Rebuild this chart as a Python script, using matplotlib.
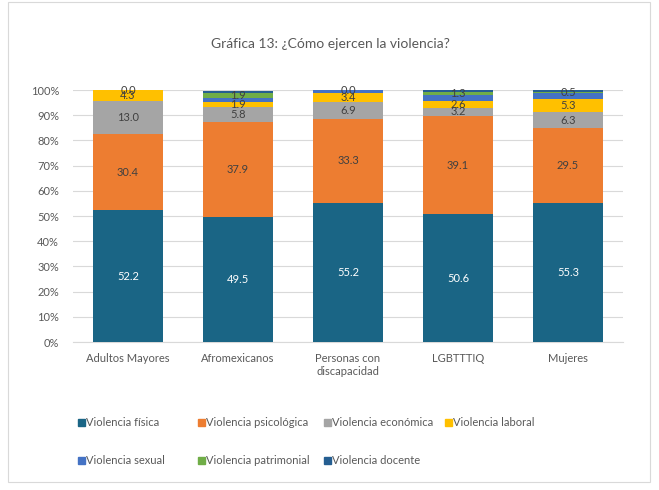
import numpy as np
import matplotlib.pyplot as plt
from matplotlib.patches import Rectangle

# data
categories = ['Adultos Mayores', 'Afromexicanos', 'Personas con\ndiscapacidad', 'LGBTTTIQ', 'Mujeres']
series_names = ['Violencia física', 'Violencia psicológica', 'Violencia económica', 'Violencia laboral',
                'Violencia sexual', 'Violencia patrimonial', 'Violencia docente']
fisica = [52.2, 49.5, 55.2, 50.6, 55.3]
psicologica = [30.4, 37.9, 33.3, 39.1, 29.5]
economica = [13.0, 5.8, 6.9, 3.2, 6.3]
laboral = [4.3, 1.9, 3.4, 2.6, 5.3]
sexual = [0.0, 1.9, 1.2, 2.4, 2.4]
patrimonial = [0.0, 1.9, 0.0, 1.3, 0.5]
docente = [0.0, 0.8, 0.0, 0.7, 0.8]
# series whose data labels appear in the chart
labelled = [True, True, True, True, False, True, False]
yticks = [0, 10, 20, 30, 40, 50, 60, 70, 80, 90, 100]

colors = ['#1a6585', '#ed7d31', '#a5a5a5', '#ffc000', '#4472c4', '#70ad47', '#255e91']
txt = '#595959'
plt.rcParams['font.family'] = ['Lato', 'DejaVu Sans']

fig = plt.figure(figsize=(6.59, 4.9), dpi=100)
W, H = 659, 490
ax = fig.add_axes([73 / W, 1 - 342 / H, 550 / W, 252 / H])

# outer chart border
fig.patches.append(Rectangle((8 / W, 8 / H), 642 / W, 480 / H, transform=fig.transFigure,
                             fill=False, edgecolor='#d9d9d9', lw=0.8))

data = [fisica, psicologica, economica, laboral, sexual, patrimonial, docente]
x = np.arange(len(categories))
bottom = np.zeros(len(categories))
for i, vals in enumerate(data):
    vals = np.array(vals)
    ax.bar(x, vals, 0.64, bottom=bottom, color=colors[i], zorder=3)
    if labelled[i]:
        for xi, b, v in zip(x, bottom, vals):
            ax.text(xi, b + v / 2, f'{v:.1f}', ha='center', va='center', fontsize=8,
                    color='white' if i == 0 else '#404040', zorder=4)
    bottom += vals

ax.set_xlim(-0.5, len(categories) - 0.5)
ax.set_ylim(0, 100)
ax.set_yticks(yticks)
ax.set_yticklabels([f'{t}%' for t in yticks])
ax.set_xticks(x)
ax.set_xticklabels(categories)
ax.grid(axis='y', color='#d9d9d9', lw=0.8, zorder=0)
for s in ['top', 'right', 'left']:
    ax.spines[s].set_visible(False)
ax.spines['bottom'].set_color('#d9d9d9')
ax.tick_params(axis='both', length=0, labelsize=8, colors=txt)
ax.tick_params(axis='x', pad=8)
ax.tick_params(axis='y', pad=10)

fig.text(330 / W, 1 - 44 / H, 'Gráfica 13: ¿Cómo ejercen la violencia?', ha='center', va='center',
         fontsize=10, color=txt)

# legend, laid out like the original (two rows)
leg_x = [81, 201, 327, 448, 81, 201, 327]
leg_y = [422, 422, 422, 422, 460, 460, 460]
for name, c, lx, ly in zip(series_names, colors, leg_x, leg_y):
    fig.patches.append(Rectangle(((lx - 3.5) / W, 1 - (ly + 3.5) / H), 7 / W, 7 / H,
                                 transform=fig.transFigure, color=c))
    fig.text((lx + 5) / W, 1 - ly / H, name, ha='left', va='center', fontsize=8, color=txt)

fig.savefig('out.png', dpi=100)
